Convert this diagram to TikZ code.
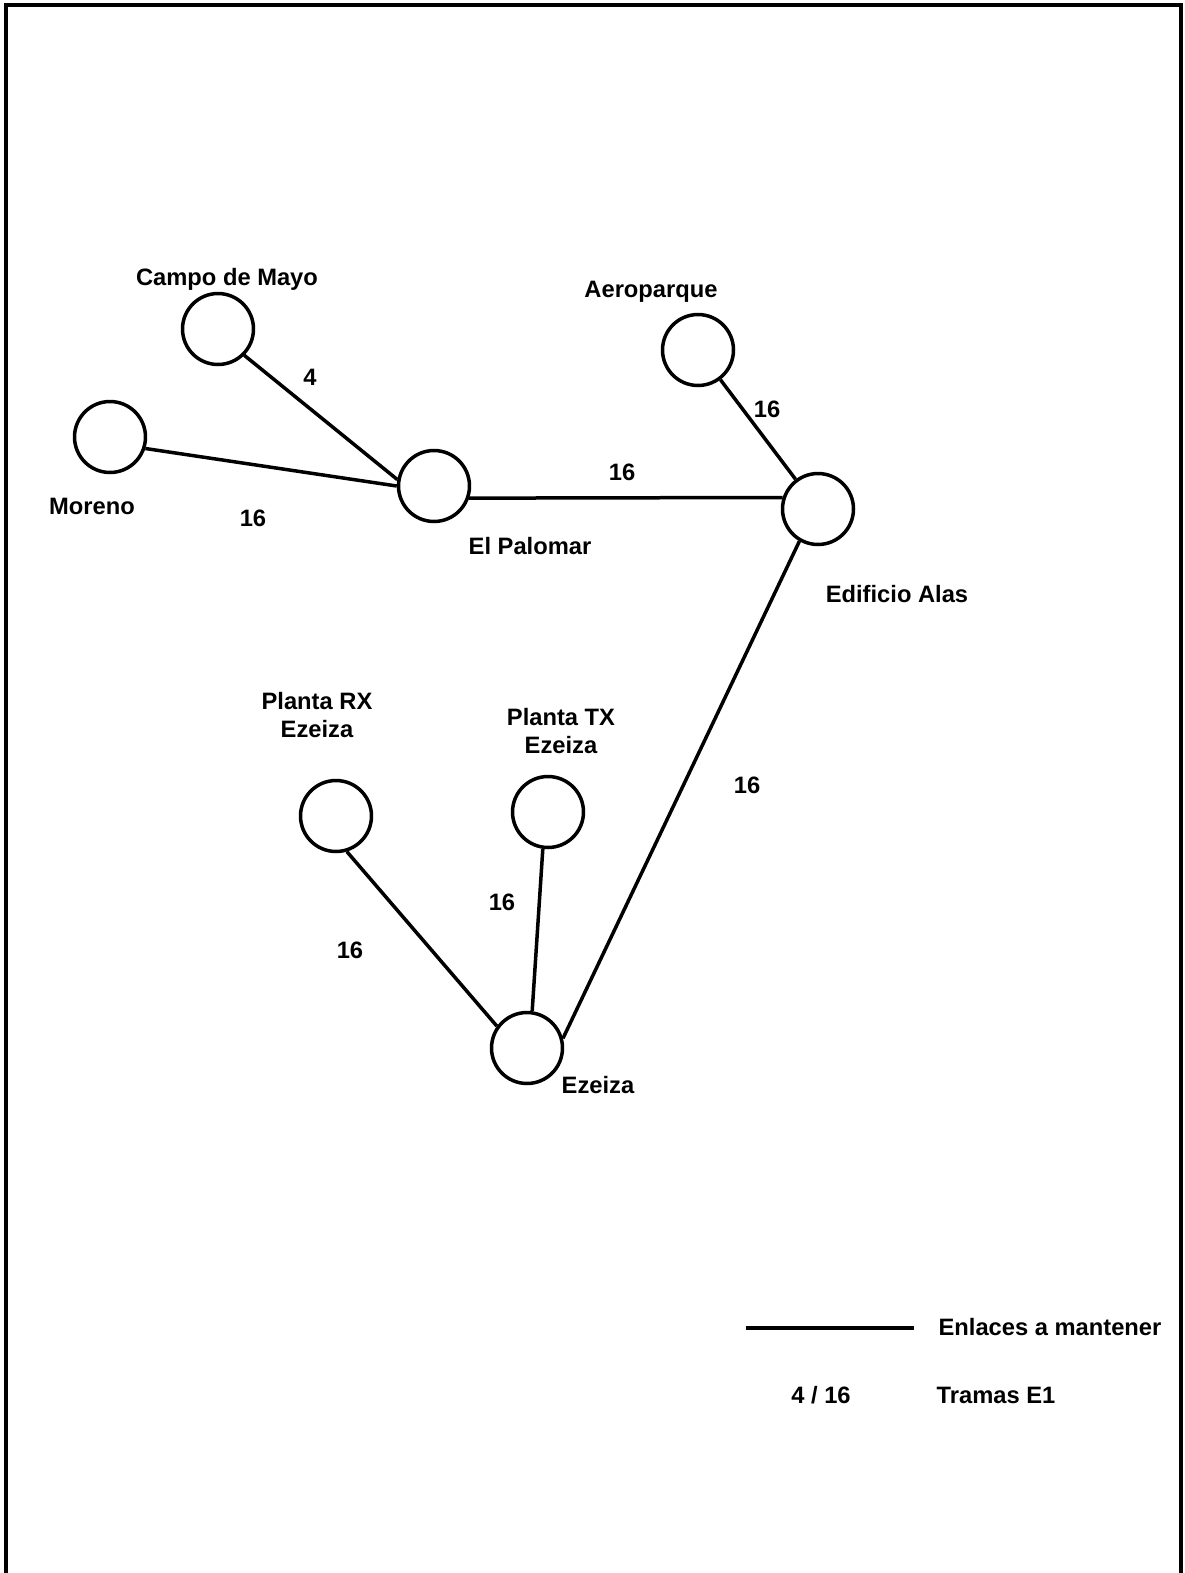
\documentclass[tikz,border=0pt]{standalone}
\usepackage{fontspec}
\setmainfont{Liberation Sans}
\begin{document}
\begin{tikzpicture}[
        x=0.02cm, y=-0.02cm,
        site/.style={draw, circle, line width=0.07cm, minimum size=1.42cm, inner sep=0pt},
        lbl/.style={font=\bfseries\fontsize{13.5}{15.4}\selectfont, align=center, anchor=base},
        link/.style={line width=0.07cm}
    ]
        \useasboundingbox (0,0) rectangle (1185,1573);
        \draw[line width=0.08cm] (6,1573) -- (6,5) -- (1181,5) -- (1181,1573);
        % sites
        \node[site] (campo) at (218, 329) {};
        \node[site] (moreno) at (110, 437) {};
        \node[site] (palomar) at (434, 486) {};
        \node[site] (aero) at (698, 350) {};
        \node[site] (alas) at (818, 509) {};
        \node[site] (rx) at (336, 816) {};
        \node[site] (tx) at (548, 812) {};
        \node[site] (ezeiza) at (527, 1048) {};
        % names
        \node[lbl] (campo-name) at (227, 285) {Campo de Mayo};
        \node[lbl] (moreno-name) at (92, 514) {Moreno};
        \node[lbl] (palomar-name) at (530, 554) {El Palomar};
        \node[lbl] (aero-name) at (651, 297) {Aeroparque};
        \node[lbl] (alas-name) at (897, 602) {Edificio Alas};
        \node[lbl, anchor=center] (rx-name) at (317, 715) {Planta RX\\Ezeiza};
        \node[lbl, anchor=center] (tx-name) at (561, 731) {Planta TX\\Ezeiza};
        \node[lbl] (ezeiza-name) at (598, 1093) {Ezeiza};
        % links
        \draw[link] (campo.-45) -- (palomar.170);
        \draw[link] (moreno.-18) -- (palomar.180);
        \draw[link] (palomar.-19) -- (alas.162);
        \draw[link] (aero) -- (alas);
        \draw[link] (alas.240) -- (ezeiza.15);
        \draw[link] (rx.-73) -- (ezeiza.144);
        \draw[link] (tx.-98) -- (ezeiza.82);
        % E1 counts
        \node[lbl] (n-campo) at (310, 385) {4};
        \node[lbl] (n-moreno) at (253, 526) {16};
        \node[lbl] (n-palomar) at (622, 480) {16};
        \node[lbl] (n-aero) at (767, 417) {16};
        \node[lbl] (n-alas) at (747, 793) {16};
        \node[lbl] (n-tx) at (502, 910) {16};
        \node[lbl] (n-rx) at (350, 958) {16};
        % legend
        \coordinate (leg-a) at (746, 1328);
        \coordinate (leg-b) at (914, 1328);
        \draw[line width=0.08cm] (leg-a) -- (leg-b);
        \node[lbl] (leg-link) at (1050, 1335) {Enlaces a mantener};
        \node[lbl] (leg-count) at (821, 1403) {4 / 16};
        \node[lbl] (leg-e1) at (996, 1403) {Tramas E1};
    \end{tikzpicture}
\end{document}
